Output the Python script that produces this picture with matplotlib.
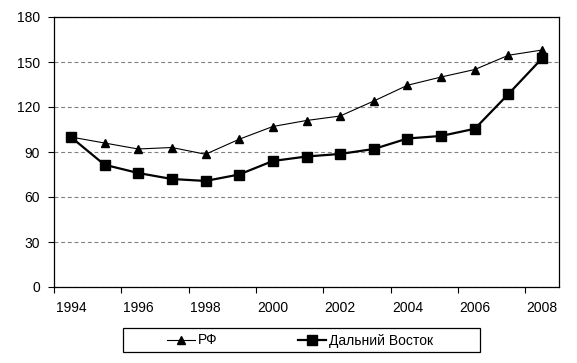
import numpy as np
import matplotlib
matplotlib.use("Agg")
import matplotlib.pyplot as plt
from matplotlib.patches import Rectangle

plt.rcParams["font.family"] = ["Liberation Sans", "DejaVu Sans"]

years = list(range(1994, 2009))
rf = [100, 96, 92, 93, 88.5, 98.5, 107, 111, 114, 124, 134.5, 140, 145, 154.5, 158]
far_east = [100, 81.5, 76, 72, 70.7, 75, 84, 87, 88.7, 92, 99, 100.7, 105.5, 128.7, 152.5]
label_rf = "РФ"
label_fe = "Дальний Восток"

W, H = 577, 363
fig = plt.figure(figsize=(W / 100, H / 100), dpi=100)
ax = fig.add_axes([54 / W, 1 - 287 / H, (559 - 54) / W, (287 - 17) / H])

x = np.arange(len(years))
ax.plot(x, rf, color="black", lw=0.8, marker="^", ms=5.5, label=label_rf, zorder=3)
ax.plot(x, far_east, color="black", lw=1.6, marker="s", ms=7.5, label=label_fe, zorder=4)

ax.set_xlim(-0.5, len(years) - 0.5)
ax.set_ylim(0, 180)
ax.set_yticks(np.arange(0, 181, 30))
ax.yaxis.grid(True, color="#808080", ls=(0, (3.5, 2.5)), lw=0.8)
ax.set_axisbelow(True)

# category axis: labels every 2 years, tick marks between categories
ax.set_xticks(x[::2])
ax.set_xticklabels([str(y) for y in years[::2]])
ax.set_xticks(np.arange(-0.5, len(years), 2), minor=True)
ax.tick_params(axis="x", which="major", length=0, pad=10)
ax.tick_params(axis="x", which="minor", length=4.5, width=0.8, direction="out")
ax.tick_params(axis="y", length=4, width=0.8, direction="out", pad=6)
ax.tick_params(labelsize=10)

for s in ax.spines.values():
    s.set_linewidth(0.9)
    s.set_color("black")

# legend box below plot
fig.patches.append(Rectangle((122.7 / W, 1 - 352 / H), (480 - 122.7) / W, 24 / H,
                             transform=fig.transFigure, fill=False, ec="black", lw=0.9))
fig.legend(loc="center", bbox_to_anchor=(300 / W, 1 - 340.5 / H), ncol=2, frameon=False,
           fontsize=10, handlelength=2.0, handletextpad=0.2, columnspacing=5.8)

fig.savefig("out.png", dpi=100)
